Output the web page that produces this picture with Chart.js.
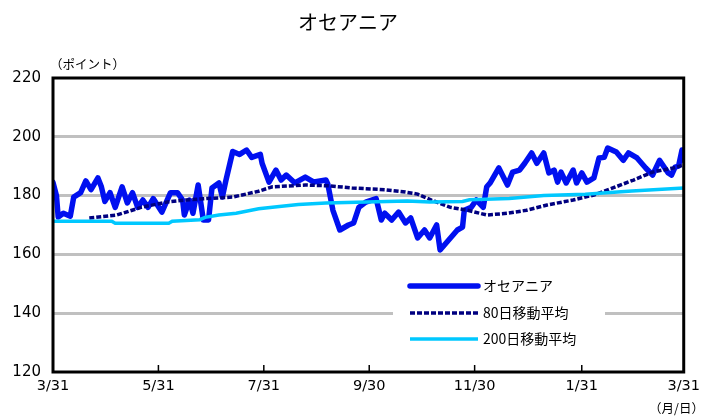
<!DOCTYPE html>
<html>
<head>
<meta charset="utf-8">
<script src="https://cdn.jsdelivr.net/npm/chart.js@4.4.1/dist/chart.umd.min.js"></script>
<style>
  html, body { margin: 0; padding: 0; background: #fff; }
  #wrap { position: relative; width: 706px; height: 417px; }
</style>
</head>
<body>
<div id="wrap"><canvas id="oceaniaChart" width="706" height="417"></canvas></div>
<script>
// x positions are calendar days counted from 3/31
const tickDays = [0, 61, 122, 183, 244, 306, 365];
const tickLabels = ['3/31', '5/31', '7/31', '9/30', '11/30', '1/31', '3/31'];

const indexDays = [0, 2, 3, 6, 10, 12, 16, 19, 22, 26, 28, 30, 33, 36, 40, 43, 46, 49, 52, 55,
    58, 63, 68, 72, 75, 76, 79, 81, 84, 87, 90, 92, 96, 98, 100, 104, 108, 112, 115, 120,
    121, 125, 129, 132, 135, 140, 146, 151, 158, 159, 162, 166, 171, 174, 177, 181, 187, 190, 192, 196,
    200, 204, 207, 211, 215, 218, 222, 224, 228, 234, 237, 238, 242, 245, 249, 251, 253, 258, 263, 266,
    270, 273, 277, 280, 284, 287, 290, 292, 294, 297, 301, 303, 306, 309, 313, 316, 319, 321, 326, 330,
    333, 338, 343, 347, 351, 356, 358, 360, 362, 364, 365];
const indexValues = [184.5, 180, 172.7, 174, 173, 179.5, 181, 185, 182, 186, 183, 178, 181, 176, 183, 177.5, 181, 176, 178.5, 176,
    179, 174.4, 181, 181, 178.5, 173.4, 178.5, 174, 183.6, 171.7, 171.7, 182.6, 184.3, 179.5, 185, 195, 194, 195.5, 193, 194,
    191, 184.6, 188.7, 185.3, 187, 184.3, 186.3, 184.6, 185.3, 184, 175, 168.3, 170, 170.7, 176, 177.8, 179, 171.7, 174, 171.7,
    174.4, 170.7, 172.4, 165.6, 168.3, 165.6, 170, 161.5, 164.2, 168.3, 169.3, 175, 176, 178.5, 176, 183, 184.3, 189.4, 183.6, 188,
    188.7, 191, 194.5, 191, 194.5, 187.7, 188.7, 184.6, 188, 184.3, 188.7, 184.3, 187.7, 184.6, 186, 192.8, 193, 196.2, 194.8, 192,
    194.5, 192.8, 189.4, 187, 192, 187.7, 187, 189.7, 190, 195.5, 192];

const ma80Days = [21, 37, 51, 66, 77, 89, 104, 119, 127, 146, 160, 173, 192, 204, 211, 219, 230, 240, 251, 263, 274, 286, 301, 313, 324, 336, 347, 359, 365];
const ma80Values = [172.4, 173.4, 176, 177.8, 178.5, 179, 179.5, 181.5, 183, 183.6, 183.3, 182.6, 182, 181.2, 180.5, 178.5, 176, 175, 173.4, 174, 175, 176.8, 178.5, 180.2, 182.6, 185.3, 188, 189.4, 190.4];

const ma200Days = [0, 34, 36, 67, 69, 85, 88, 96, 106, 119, 131, 142, 158, 205, 218, 237, 241, 264, 284, 308, 335, 365];
const ma200Values = [171.3, 171.3, 170.6, 170.6, 171.3, 171.8, 172.6, 173.4, 174, 175.5, 176.3, 177, 177.5, 178.2, 177.8, 178, 178.6, 179, 180, 180.5, 181.6, 182.6];

const yMin = 120, yMax = 220, yStep = 20;

function toPoints(days, values) {
    return days.map((d, i) => ({ x: d, y: values[i] }));
}

const JP = '"Noto Sans CJK JP", "Noto Sans", sans-serif';
const NUM = '"DejaVu Sans", sans-serif';

// frame, inward tick marks, title, unit labels and the boxed legend
const framePlugin = {
    id: 'frame',
    afterDatasetsDraw(chart) {
        const c = chart.ctx;
        const a = chart.chartArea;
        const xs = chart.scales.x;
        c.save();
        c.strokeStyle = '#000';
        c.lineWidth = 1.5;
        tickDays.forEach(d => {
            const px = xs.getPixelForValue(d);
            c.beginPath();
            c.moveTo(px, a.bottom);
            c.lineTo(px, a.bottom - 7);
            c.stroke();
        });
        c.lineWidth = 3;
        c.strokeRect(a.left, a.top, a.right - a.left, a.bottom - a.top);

        // legend
        c.fillStyle = '#fff';
        c.fillRect(393, 274, 212, 76);
        const ds = chart.data.datasets;
        const rows = [286, 313, 339];
        ds.forEach((s, i) => {
            c.beginPath();
            c.strokeStyle = s.borderColor;
            c.lineWidth = s.borderWidth;
            c.lineCap = i === 0 ? 'round' : 'butt';
            c.setLineDash(s.borderDash || []);
            c.moveTo(410, rows[i]);
            c.lineTo(478, rows[i]);
            c.stroke();
            c.setLineDash([]);
            c.fillStyle = '#000';
            c.font = '14px ' + JP;
            c.textBaseline = 'middle';
            c.textAlign = 'left';
            c.fillText(s.label, 483, rows[i]);
        });

        c.fillStyle = '#000';
        c.textBaseline = 'middle';
        c.textAlign = 'center';
        c.font = '20px ' + JP;
        c.fillText('オセアニア', 348, 22);
        c.textAlign = 'left';
        c.font = '12.5px ' + JP;
        c.fillText('（ポイント）', 50, 64);
        c.textAlign = 'right';
        c.fillText('（月/日）', 704, 408);
        c.restore();
    }
};

new Chart(document.getElementById('oceaniaChart'), {
    type: 'line',
    data: {
        datasets: [
            {
                label: 'オセアニア',
                data: toPoints(indexDays, indexValues),
                borderColor: '#0010f0',
                borderWidth: 5.5,
                borderJoinStyle: 'round',
                borderCapStyle: 'round',
                pointRadius: 0,
                tension: 0,
                order: 3
            },
            {
                label: '80日移動平均',
                data: toPoints(ma80Days, ma80Values),
                borderColor: '#000080',
                borderWidth: 3.5,
                borderDash: [5, 2],
                pointRadius: 0,
                tension: 0,
                order: 2
            },
            {
                label: '200日移動平均',
                data: toPoints(ma200Days, ma200Values),
                borderColor: '#00c8ff',
                borderWidth: 3.5,
                pointRadius: 0,
                tension: 0,
                order: 1
            }
        ]
    },
    options: {
        responsive: false,
        animation: false,
        layout: { padding: { top: 78, right: 18, left: 0, bottom: 0 } },
        scales: {
            x: {
                type: 'linear',
                min: 0,
                max: 365,
                afterBuildTicks: s => { s.ticks = tickDays.map(v => ({ value: v })); },
                afterFit: s => { s.height = 45; },
                grid: { display: false, drawTicks: false },
                border: { display: false },
                ticks: {
                    autoSkip: false,
                    maxRotation: 0,
                    padding: 6,
                    color: '#000',
                    font: { family: NUM, size: 14.5 },
                    callback: (v) => tickLabels[tickDays.indexOf(v)]
                }
            },
            y: {
                min: yMin,
                max: yMax,
                afterFit: s => { s.width = 53; },
                ticks: {
                    stepSize: yStep,
                    padding: 12,
                    color: '#000',
                    font: { family: NUM, size: 15 }
                },
                grid: {
                    drawTicks: false,
                    lineWidth: 3,
                    color: c => (c.tick && (c.tick.value === yMin || c.tick.value === yMax)) ? 'rgba(0,0,0,0)' : '#c0c0c0'
                },
                border: { display: false }
            }
        },
        plugins: {
            legend: { display: false },
            title: { display: false },
            tooltip: { enabled: false }
        }
    },
    plugins: [framePlugin]
});
</script>
</body>
</html>
